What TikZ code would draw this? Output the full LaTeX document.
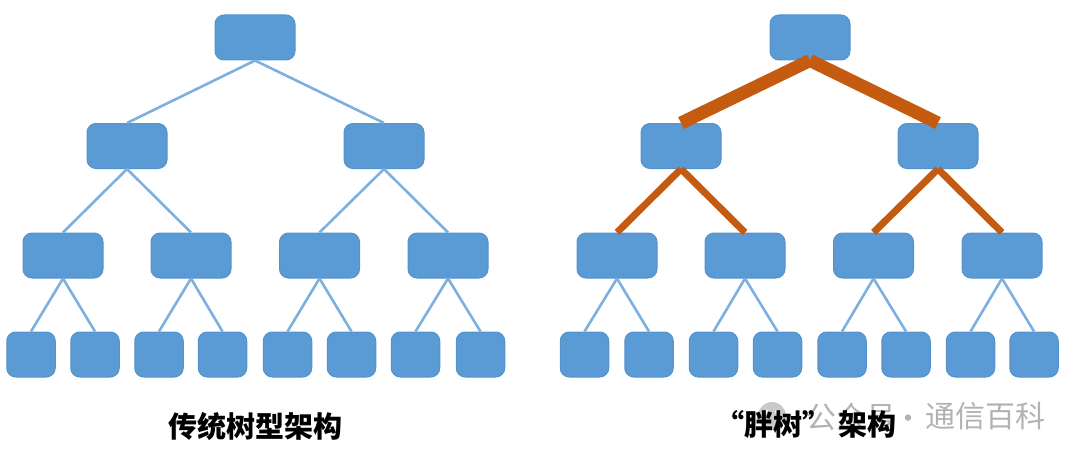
\documentclass[tikz,border=0pt]{standalone}
\usepackage{fontspec}
\usepackage{xcolor}
\usetikzlibrary{positioning}
\newfontfamily\cjkfont{Noto Sans CJK SC}
\definecolor{boxblue}{RGB}{91, 155, 213}
\definecolor{boxedge}{RGB}{84, 146, 204}
\definecolor{linkblue}{RGB}{124, 176, 224}
\definecolor{fatorange}{RGB}{197, 90, 17}
\definecolor{markgray}{RGB}{178, 178, 178}
\tikzset{
    widebox/.style={fill=boxblue, draw=boxedge, line width=1pt, rounded corners=9pt, minimum width=80pt, minimum height=45pt, inner sep=0pt},
    leafbox/.style={widebox, minimum width=48.5pt},
    thinlink/.style={linkblue, line width=2.6pt},
    fatlink/.style={fatorange, line width=13pt},
    midlink/.style={fatorange, line width=7pt},
    caption/.style={font=\cjkfont\bfseries\fontsize{29}{33}\selectfont, text=black, inner sep=0pt},
    markword/.style={font=\cjkfont\fontsize{30}{34}\selectfont, text=markgray, inner sep=0pt}
}

\begin{document}
\begin{tikzpicture}[x=1pt, y=-1pt]
    \useasboundingbox (0, 0) rectangle (1080, 460);

    % Boxes of both trees
    \foreach \name/\xpos/\ypos in {
        lroot/255/37.5, la/127/146, lb/384/146,
        laa/63/255.5, lab/191/255.5, lba/319.5/255.5, lbb/448/255.5,
        rroot/810/37.5, ra/681/146, rb/938/146,
        raa/617/255.5, rab/745/255.5, rba/873.5/255.5, rbb/1002/255.5} {
        \node[widebox] (\name) at (\xpos, \ypos) {};
    }
    \foreach \name/\xpos in {
        laaa/31, laab/95, laba/159, labb/222.5, lbaa/287.5, lbab/351.5, lbba/415.5, lbbb/480.5,
        raaa/584.5, raab/649, raba/713.5, rabb/777.5, rbaa/842, rbab/906, rbba/970.5, rbbb/1034} {
        \node[leafbox] (\name) at (\xpos, 354.5) {};
    }

    % Links of the plain tree
    \foreach \from/\to in {
        lroot/la, lroot/lb, la/laa, la/lab, lb/lba, lb/lbb,
        laa/laaa, laa/laab, lab/laba, lab/labb, lba/lbaa, lba/lbab, lbb/lbba, lbb/lbbb,
        raa/raaa, raa/raab, rab/raba, rab/rabb, rba/rbaa, rba/rbab, rbb/rbba, rbb/rbbb} {
        \draw[thinlink] (\from.south) -- (\to.north);
    }

    % Thick links of the right tree
    \foreach \to in {ra, rb} {
        \draw[fatlink] (rroot.south) -- (\to.north);
    }
    \foreach \from/\to in {ra/raa, ra/rab, rb/rba, rb/rbb} {
        \draw[midlink] (\from.south) -- (\to.north);
    }

    % Watermark
    \fill[markgray!70] (772, 416) circle (14);
    \fill[white] (767, 412) circle (2);
    \fill[white] (777, 412) circle (2);
    \node[markword] (markname) at (851, 417) {公众号};
    \node[markword] (markdot) at (908, 422) {·};
    \node[markword] (markhost) at (985.5, 416) {通信百科};

    % Captions
    \node[caption] (lcaption) at (255, 426) {传统树型架构};
    \node[caption] (rcaption) at (806, 424) {“胖树” 架构};
\end{tikzpicture}
\end{document}
